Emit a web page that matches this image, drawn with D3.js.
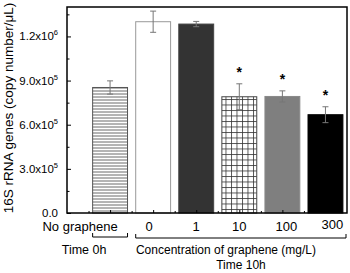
<!DOCTYPE html>
<html>
<head>
<script src="https://d3js.org/d3.v7.min.js"></script>
<style>
  body { margin: 0; background: #fff; }
  text { font-family: Arial, "Liberation Sans", sans-serif; fill: #000; }
</style>
</head>
<body>
<svg width="350" height="273"></svg>
<script>
var groups = ["No graphene", "0", "1", "10", "100", "300"];
var means = [853000, 1300000, 1284000, 790000, 792000, 668000];
var errs = [45000, 72000, 18000, 88000, 38000, 54000];
var starred = [false, false, false, true, true, true];
var yTicks = [0, 300000, 600000, 900000, 1200000];
var yLabels = ["0.0", "3.0x10|5", "6.0x10|5", "9.0x10|5", "1.2x10|6"];

var svg = d3.select("svg");
var x = d3.scaleLinear().domain([0, 6.5]).range([67, 347]);
var y = d3.scaleLinear().domain([0, 1400000]).range([213, 7]);
var bw = 0.81;

var defs = svg.append("defs");
var hl = defs.append("pattern").attr("id", "hlines")
  .attr("patternUnits", "userSpaceOnUse").attr("width", 4).attr("height", 3);
hl.append("rect").attr("width", 4).attr("height", 3).attr("fill", "#fff");
hl.append("line").attr("x1", 0).attr("x2", 4).attr("y1", 1).attr("y2", 1)
  .attr("stroke", "#444").attr("stroke-width", 0.8);

var gr = defs.append("pattern").attr("id", "grid")
  .attr("patternUnits", "userSpaceOnUse").attr("width", 5.5).attr("height", 5.5);
gr.append("rect").attr("width", 5.5).attr("height", 5.5).attr("fill", "#fff");
gr.append("path").attr("d", "M0,0.5H5.5M0.5,0V5.5")
  .attr("stroke", "#333").attr("stroke-width", 0.8).attr("fill", "none");

var fills = ["url(#hlines)", "#fff", "#333", "url(#grid)", "#7f7f7f", "#000"];
var strokes = ["#555", "#999", "#444", "#444", "#888", "#000"];

// bars
svg.selectAll("rect.bar").data(means).enter().append("rect")
  .attr("class", "bar")
  .attr("x", function(d, i) { return x(i + 1 - bw / 2); })
  .attr("width", x(bw) - x(0))
  .attr("y", function(d) { return y(d); })
  .attr("height", function(d) { return y(0) - y(d); })
  .attr("fill", function(d, i) { return fills[i]; })
  .attr("stroke", function(d, i) { return strokes[i]; })
  .attr("stroke-width", 1);

// error bars
var eb = svg.selectAll("g.err").data(means).enter().append("g")
  .attr("stroke", "#777").attr("stroke-width", 1);
eb.append("line")
  .attr("x1", function(d, i) { return x(i + 1); })
  .attr("x2", function(d, i) { return x(i + 1); })
  .attr("y1", function(d, i) { return y(d + errs[i]); })
  .attr("y2", function(d, i) { return y(d - errs[i]); });
eb.append("line")
  .attr("x1", function(d, i) { return x(i + 1) - 3; })
  .attr("x2", function(d, i) { return x(i + 1) + 3; })
  .attr("y1", function(d, i) { return y(d + errs[i]); })
  .attr("y2", function(d, i) { return y(d + errs[i]); });
eb.append("line")
  .attr("x1", function(d, i) { return x(i + 1) - 3; })
  .attr("x2", function(d, i) { return x(i + 1) + 3; })
  .attr("y1", function(d, i) { return y(d - errs[i]); })
  .attr("y2", function(d, i) { return y(d - errs[i]); });

// stars
svg.selectAll("text.star").data(means).enter().filter(function(d, i) { return starred[i]; })
  .append("text")
  .attr("x", function(d) { return x(means.indexOf(d) + 1); })
  .attr("y", function(d) { var i = means.indexOf(d); return y(d + errs[i]) - 7; })
  .attr("text-anchor", "middle")
  .attr("font-size", 14).attr("font-weight", "bold")
  .text("*");

// frame
svg.append("rect").attr("x", 67).attr("y", 7).attr("width", 280).attr("height", 206)
  .attr("fill", "none").attr("stroke", "#000").attr("stroke-width", 1.5);

// y axis
var yAxis = svg.append("g").attr("transform", "translate(67,0)")
  .call(d3.axisLeft(y).tickValues(yTicks).tickSize(-4).tickPadding(8).tickFormat(""));
yAxis.select(".domain").remove();
yAxis.selectAll("text").remove();
var yMinor = svg.append("g").attr("transform", "translate(67,0)")
  .call(d3.axisLeft(y).tickValues([150000, 450000, 750000, 1050000, 1350000]).tickSize(-2.5).tickFormat(""));
yMinor.select(".domain").remove();

svg.selectAll("text.ylab").data(yTicks).enter().append("text")
  .attr("class", "ylab")
  .attr("x", 58)
  .attr("y", function(d) { return y(d) + 4; })
  .attr("text-anchor", "end")
  .attr("font-size", 11.5)
  .each(function(d, i) {
    var parts = yLabels[i].split("|");
    var t = d3.select(this);
    t.append("tspan").text(parts[0]);
    if (parts[1]) {
      t.append("tspan").attr("dy", -5).attr("font-size", 7.5).text(parts[1]);
    }
  });

// x axis ticks (inward)
var xAxis = svg.append("g").attr("transform", "translate(0,213)")
  .call(d3.axisBottom(x).tickValues([1, 2, 3, 4, 5, 6]).tickSize(-3).tickFormat(""));
xAxis.select(".domain").remove();
var xMinor = svg.append("g").attr("transform", "translate(0,213)")
  .call(d3.axisBottom(x).tickValues([0.5, 1.5, 2.5, 3.5, 4.5, 5.5]).tickSize(-2).tickFormat(""));
xMinor.select(".domain").remove();

// category labels
var shift = [-30, -4, 0, 0, 4, 7];
svg.selectAll("text.xlab").data(groups).enter().append("text")
  .attr("class", "xlab")
  .attr("x", function(d, i) { return x(i + 1) + shift[i]; })
  .attr("y", function(d, i) { return i === 5 ? 229 : 231; })
  .attr("text-anchor", "middle")
  .attr("font-size", 13)
  .text(function(d) { return d; });

// brackets
function bracket(x0, x1, yy) {
  svg.append("path")
    .attr("d", "M" + x0 + "," + (yy - 4) + "V" + yy + "H" + x1 + "V" + (yy - 4))
    .attr("fill", "none").attr("stroke", "#000").attr("stroke-width", 1);
}
bracket(x(1 - bw / 2), x(1 + bw / 2), 237);
bracket(x(2 - bw / 2), x(6.5) - 1, 238);

svg.append("text").attr("x", x(1) - 26).attr("y", 254)
  .attr("text-anchor", "middle").attr("font-size", 12.5).text("Time 0h");
svg.append("text").attr("x", 226).attr("y", 254)
  .attr("text-anchor", "middle").attr("font-size", 12).text("Concentration of graphene (mg/L)");
svg.append("text").attr("x", 241).attr("y", 269)
  .attr("text-anchor", "middle").attr("font-size", 12).text("Time 10h");

// y title
svg.append("text")
  .attr("transform", "translate(13,108) rotate(-90)")
  .attr("text-anchor", "middle")
  .attr("font-size", 13.5)
  .text("16S rRNA genes (copy number/\u03bcL)");
</script>
</body>
</html>
